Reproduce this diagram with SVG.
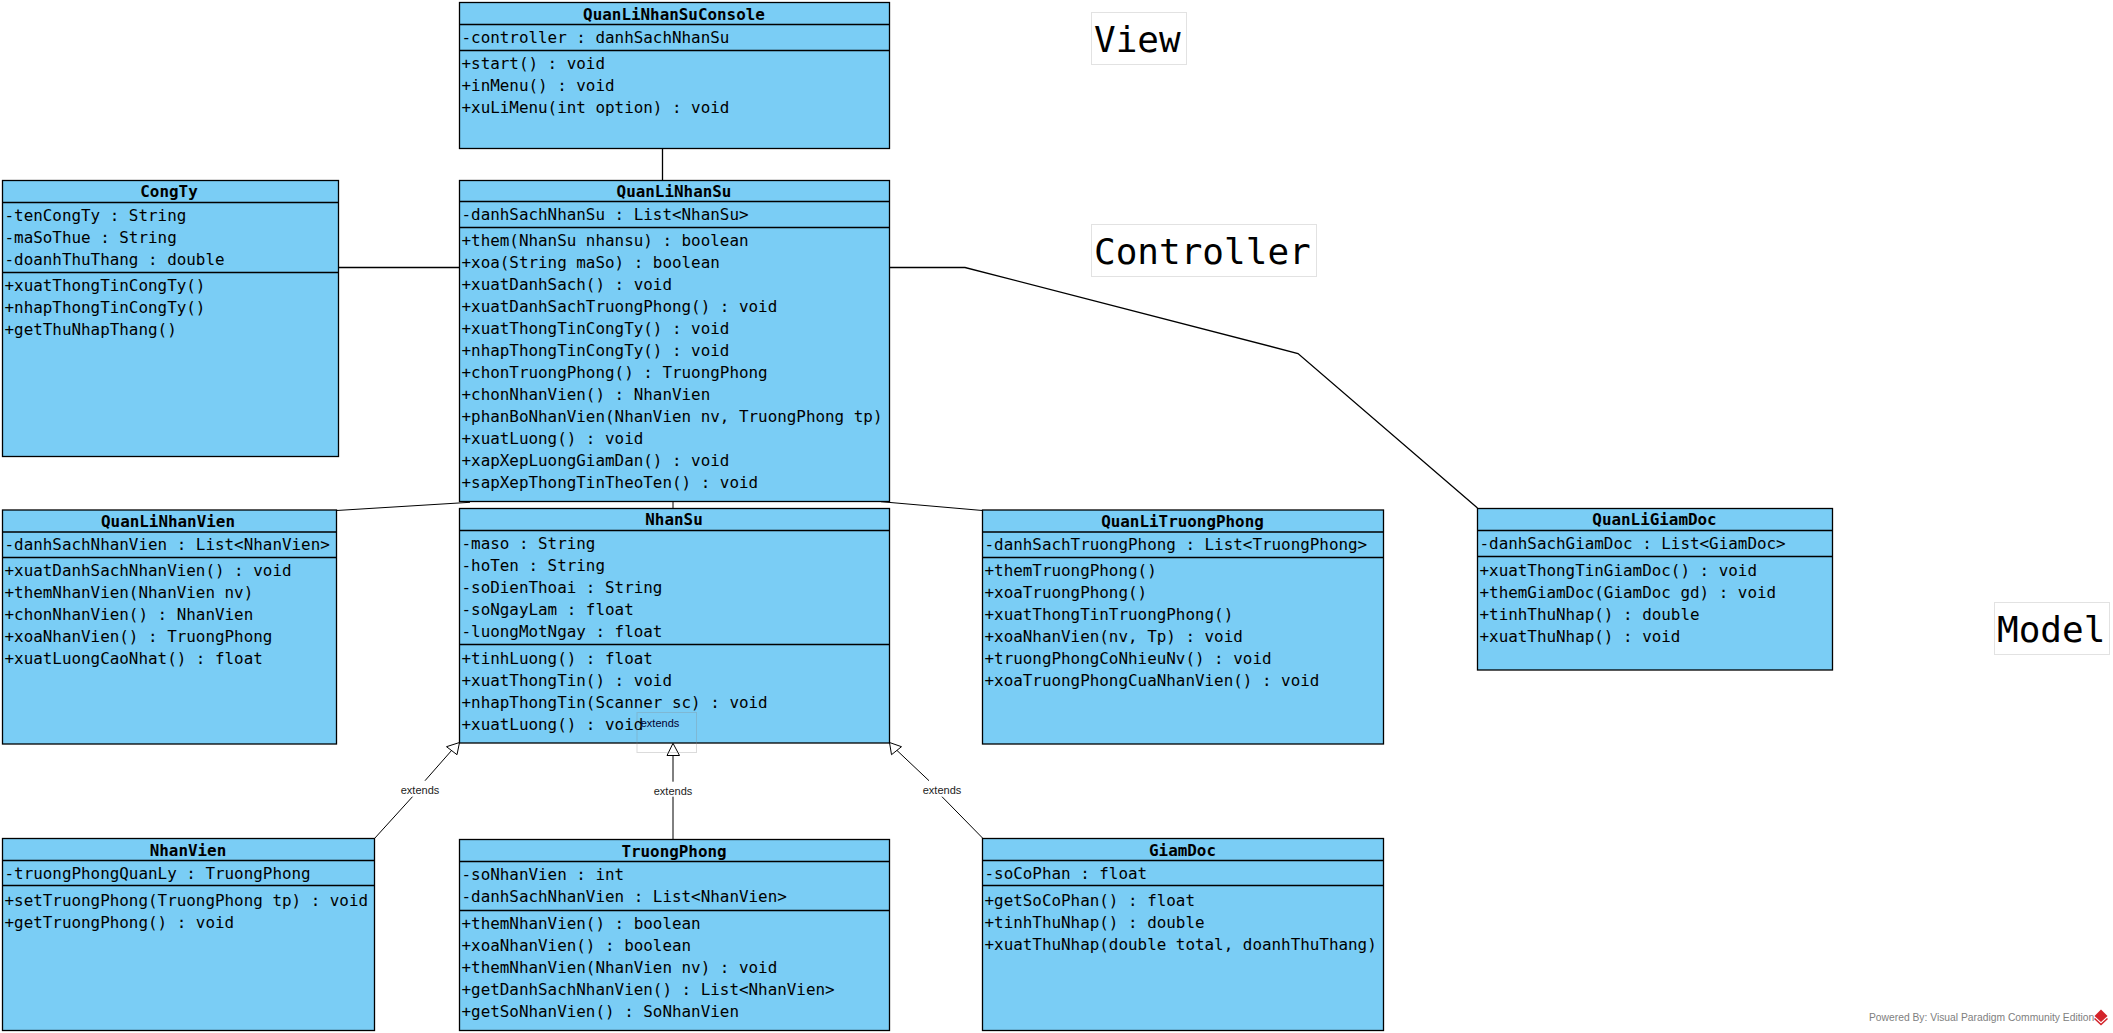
<svg xmlns="http://www.w3.org/2000/svg" width="2113" height="1033" viewBox="0 0 2113 1033">
<style>
.b{fill:#7acdf5;stroke:#000;stroke-width:1.3}
.l{stroke:#000;stroke-width:1.3;fill:none}
.c{stroke:#000;stroke-width:1;fill:none}
.a{stroke:#000;stroke-width:1;fill:#fff}
.f{fill:none;stroke:#e2e2e2;stroke-width:1}
text{font-family:"DejaVu Sans Mono",monospace;font-size:15.9px;fill:#000}
.t{font-weight:bold;text-anchor:middle}
.e{font-family:"Liberation Sans",sans-serif;font-size:11px;text-anchor:middle;fill:#222}
.h{font-size:36px}
</style>
<rect width="2113" height="1033" fill="#fff"/>
<g id="connectors">
<path class="l" d="M662.5 148V181M889.5 267.5H965L1298 353.5L1477.5 508M338.500 267.500H459.500"/>
<path class="c" d="M470 502.300L336.500 510.500M673 502V508.500M881 501.700L982.500 510.500"/>
<path class="c" d="M374.500 838.500L412.500 796.700M425 780.700L452 750M673 839.500V796.700M673 781.700V755.500M983 838.500L942 796.700M929 780.700L896.500 750"/>
<path class="a" d="M459.500 742.500L446.500 746.700L457 754.700ZM673 743.300L667 755.500H679.500ZM889.500 742.500L901.500 746.700L891.500 754.700Z"/>
</g>
<g id="QuanLiNhanSuConsole"><rect class="b" x="459.500" y="2.500" width="430" height="146"/><path class="l" d="M459.500 24.500H889.500M459.500 50.500H889.500"/>
<text class="t" x="674" y="19.500">QuanLiNhanSuConsole</text><text x="461.500" y="43">-controller : danhSachNhanSu</text><text x="461.500" y="69">+start() : void</text><text x="461.500" y="91">+inMenu() : void</text><text x="461.500" y="113">+xuLiMenu(int option) : void</text></g>
<g id="QuanLiNhanSu"><rect class="b" x="459.500" y="180.500" width="430" height="321"/><path class="l" d="M459.500 201.500H889.500M459.500 227.500H889.500"/>
<text class="t" x="674" y="197">QuanLiNhanSu</text><text x="461.500" y="220">-danhSachNhanSu : List&lt;NhanSu&gt;</text>
<text x="461.500" y="246">+them(NhanSu nhansu) : boolean</text><text x="461.500" y="268">+xoa(String maSo) : boolean</text><text x="461.500" y="290">+xuatDanhSach() : void</text><text x="461.500" y="312">+xuatDanhSachTruongPhong() : void</text><text x="461.500" y="334">+xuatThongTinCongTy() : void</text><text x="461.500" y="356">+nhapThongTinCongTy() : void</text><text x="461.500" y="378">+chonTruongPhong() : TruongPhong</text><text x="461.500" y="400">+chonNhanVien() : NhanVien</text><text x="461.500" y="422">+phanBoNhanVien(NhanVien nv, TruongPhong tp)</text><text x="461.500" y="444">+xuatLuong() : void</text><text x="461.500" y="466">+xapXepLuongGiamDan() : void</text><text x="461.500" y="488">+sapXepThongTinTheoTen() : void</text></g>
<g id="CongTy"><rect class="b" x="2.500" y="180.500" width="336" height="276"/><path class="l" d="M2.500 202.500H338.500M2.500 272.500H338.500"/>
<text class="t" x="169" y="197">CongTy</text><text x="4.500" y="221">-tenCongTy : String</text><text x="4.500" y="243">-maSoThue : String</text><text x="4.500" y="265">-doanhThuThang : double</text><text x="4.500" y="291">+xuatThongTinCongTy()</text><text x="4.500" y="313">+nhapThongTinCongTy()</text><text x="4.500" y="335">+getThuNhapThang()</text></g>
<g id="QuanLiNhanVien"><rect class="b" x="2.500" y="510" width="334" height="234"/><path class="l" d="M2.500 532H336.500M2.500 557.500H336.500"/>
<text class="t" x="168" y="526.500">QuanLiNhanVien</text><text x="4.500" y="550">-danhSachNhanVien : List&lt;NhanVien&gt;</text><text x="4.500" y="576">+xuatDanhSachNhanVien() : void</text><text x="4.500" y="598">+themNhanVien(NhanVien nv)</text><text x="4.500" y="620">+chonNhanVien() : NhanVien</text><text x="4.500" y="642">+xoaNhanVien() : TruongPhong</text><text x="4.500" y="664">+xuatLuongCaoNhat() : float</text></g>
<g id="NhanSu"><rect class="b" x="459.500" y="508.500" width="430" height="234.500"/><path class="l" d="M459.500 530.500H889.500M459.500 644.500H889.500"/>
<text class="t" x="674" y="525">NhanSu</text><text x="461.500" y="549">-maso : String</text><text x="461.500" y="571">-hoTen : String</text><text x="461.500" y="593">-soDienThoai : String</text><text x="461.500" y="615">-soNgayLam : float</text><text x="461.500" y="637">-luongMotNgay : float</text><text x="461.500" y="663.500">+tinhLuong() : float</text><text x="461.500" y="685.500">+xuatThongTin() : void</text><text x="461.500" y="707.500">+nhapThongTin(Scanner sc) : void</text><text x="461.500" y="729.500">+xuatLuong() : void</text></g>
<g id="QuanLiTruongPhong"><rect class="b" x="982.500" y="510" width="401" height="234"/><path class="l" d="M982.500 532H1383.500M982.500 557.500H1383.500"/>
<text class="t" x="1182.500" y="526.500">QuanLiTruongPhong</text><text x="984.500" y="550">-danhSachTruongPhong : List&lt;TruongPhong&gt;</text><text x="984.500" y="576">+themTruongPhong()</text><text x="984.500" y="598">+xoaTruongPhong()</text><text x="984.500" y="620">+xuatThongTinTruongPhong()</text><text x="984.500" y="642">+xoaNhanVien(nv, Tp) : void</text><text x="984.500" y="664">+truongPhongCoNhieuNv() : void</text><text x="984.500" y="686">+xoaTruongPhongCuaNhanVien() : void</text></g>
<g id="QuanLiGiamDoc"><rect class="b" x="1477.500" y="508.500" width="355" height="161.500"/><path class="l" d="M1477.500 530.500H1832.500M1477.500 556.500H1832.500"/>
<text class="t" x="1654.500" y="525">QuanLiGiamDoc</text><text x="1479.500" y="549">-danhSachGiamDoc : List&lt;GiamDoc&gt;</text><text x="1479.500" y="575.500">+xuatThongTinGiamDoc() : void</text><text x="1479.500" y="597.500">+themGiamDoc(GiamDoc gd) : void</text><text x="1479.500" y="619.500">+tinhThuNhap() : double</text><text x="1479.500" y="641.500">+xuatThuNhap() : void</text></g>
<g id="NhanVien"><rect class="b" x="2.500" y="838.500" width="372" height="192"/><path class="l" d="M2.500 860.500H374.500M2.500 885.500H374.500"/>
<text class="t" x="188" y="856">NhanVien</text><text x="4.500" y="879">-truongPhongQuanLy : TruongPhong</text><text x="4.500" y="906">+setTruongPhong(TruongPhong tp) : void</text><text x="4.500" y="928">+getTruongPhong() : void</text></g>
<g id="TruongPhong"><rect class="b" x="459.500" y="839.500" width="430" height="191"/><path class="l" d="M459.500 861.500H889.500M459.500 910.500H889.500"/>
<text class="t" x="674" y="857">TruongPhong</text><text x="461.500" y="880">-soNhanVien : int</text><text x="461.500" y="902">-danhSachNhanVien : List&lt;NhanVien&gt;</text><text x="461.500" y="929">+themNhanVien() : boolean</text><text x="461.500" y="951">+xoaNhanVien() : boolean</text><text x="461.500" y="973">+themNhanVien(NhanVien nv) : void</text><text x="461.500" y="995">+getDanhSachNhanVien() : List&lt;NhanVien&gt;</text><text x="461.500" y="1017">+getSoNhanVien() : SoNhanVien</text></g>
<g id="GiamDoc"><rect class="b" x="982.500" y="838.500" width="401" height="192"/><path class="l" d="M982.500 860.500H1383.500M982.500 885.500H1383.500"/>
<text class="t" x="1182.500" y="856">GiamDoc</text><text x="984.500" y="879">-soCoPhan : float</text><text x="984.500" y="906">+getSoCoPhan() : float</text><text x="984.500" y="928">+tinhThuNhap() : double</text><text x="984.500" y="950">+xuatThuNhap(double total, doanhThuThang)</text></g>
<g id="labels">
<rect x="637" y="712.500" width="59.500" height="40" fill="none" stroke="#888" stroke-opacity=".3"/>
<text class="e" x="660" y="727" style="fill:#003">extends</text>
<text class="e" x="420" y="794">extends</text>
<text class="e" x="673" y="795">extends</text>
<text class="e" x="942" y="794">extends</text>
</g>
<g id="View"><rect class="f" x="1091.500" y="12.500" width="95" height="52"/><text class="h" x="1094" y="52">View</text></g>
<g id="Controller"><rect class="f" x="1091.500" y="224.500" width="225" height="52"/><text class="h" x="1094" y="264">Controller</text></g>
<g id="Model"><rect class="f" x="1994.500" y="602.500" width="115" height="52"/><text class="h" x="1997" y="642">Model</text></g>
<text x="1869" y="1021" style="font-family:'Liberation Sans',sans-serif;font-size:10.3px;fill:#808080">Powered By: Visual Paradigm Community Edition</text>
<g id="logo"><path d="M2101 1009.500L2107.500 1016L2101 1022L2094.500 1016Z" fill="#d3232a"/><path d="M2094.500 1018.500L2101 1024.500L2107.500 1018.500" fill="none" stroke="#d3232a" stroke-width="1.500"/></g>
</svg>
